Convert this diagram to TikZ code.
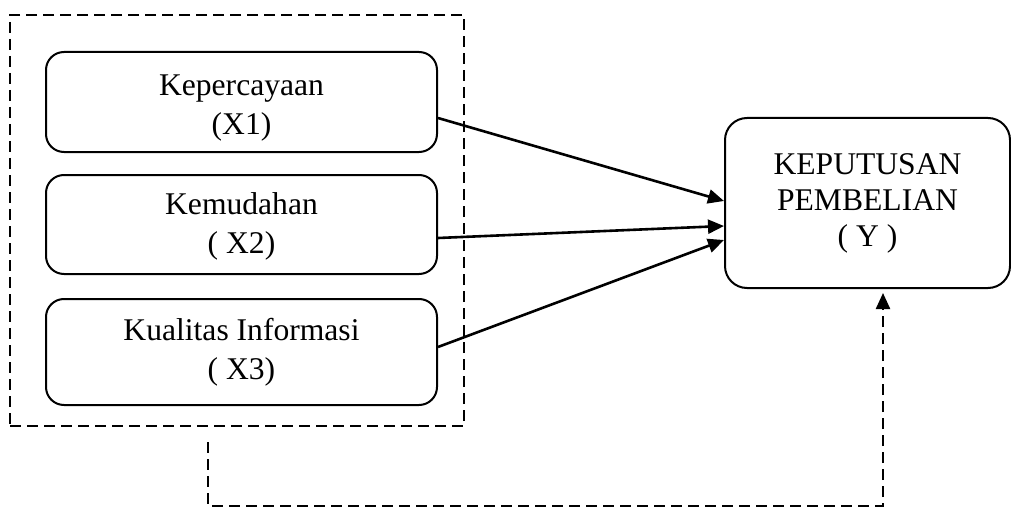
\documentclass[tikz,border=0pt]{standalone}
\usepackage{fontspec}
\setmainfont{Liberation Serif}
\usetikzlibrary{arrows.meta}
\begin{document}
\begin{tikzpicture}[x=0.5pt,y=-0.5pt,
  varbox/.style={draw,line width=1pt,rounded corners=9pt,minimum width=195.5pt,inner sep=0pt},
  vartext/.style={align=center,font=\fontsize{15.8}{19.5}\selectfont,inner sep=0pt},
  ybox/.style={draw,line width=1pt,rounded corners=11pt,minimum width=142.5pt,minimum height=85pt,align=center,
    font=\fontsize{15.8}{18}\selectfont,inner sep=0pt},
  grpbox/.style={draw,line width=1.15pt,dash pattern=on 5.5pt off 3pt,minimum width=227pt,minimum height=205.5pt,inner sep=0pt},
  conn/.style={line width=1.3pt,-{Triangle[length=8pt,width=7pt]}},
  fbline/.style={line width=1.15pt,dash pattern=on 5.5pt off 3pt,-{Triangle[length=8pt,width=7pt]}}]
\useasboundingbox[fill=white] (0,0) rectangle (1011,508);
\node[grpbox] (grp) at (237,220.5) {};
\node[varbox,minimum height=50pt] (x1) at (241.5,102) {};
\node[vartext] (t1) at ([yshift=-3pt]x1.center) {Kepercayaan\\(X1)};
\node[varbox,minimum height=49.5pt] (x2) at (241.5,224.5) {};
\node[vartext] (t2) at ([yshift=-1pt]x2.center) {Kemudahan\\( X2)};
\node[varbox,minimum height=53pt] (x3) at (241.5,352) {};
\node[vartext] (t3) at (x3.center) {Kualitas Informasi\\( X3)};
\node[ybox] (y) at (867.5,203) {KEPUTUSAN\\PEMBELIAN\\( Y )};
\draw[conn] ([yshift=-8pt]x1.east) -- ([yshift=1pt]y.west);
\draw[conn] ([yshift=-6.75pt]x2.east) -- ([yshift=-11.5pt]y.west);
\draw[conn] ([yshift=2.5pt]x3.east) -- ([yshift=-18.5pt]y.west);
\coordinate (fbstart) at (208,442);
\coordinate (fbcorner) at (883,506);
\coordinate (fbend) at (883,293);
\draw[fbline] (fbstart) |- (fbcorner) -- (fbend);
\end{tikzpicture}
\end{document}
